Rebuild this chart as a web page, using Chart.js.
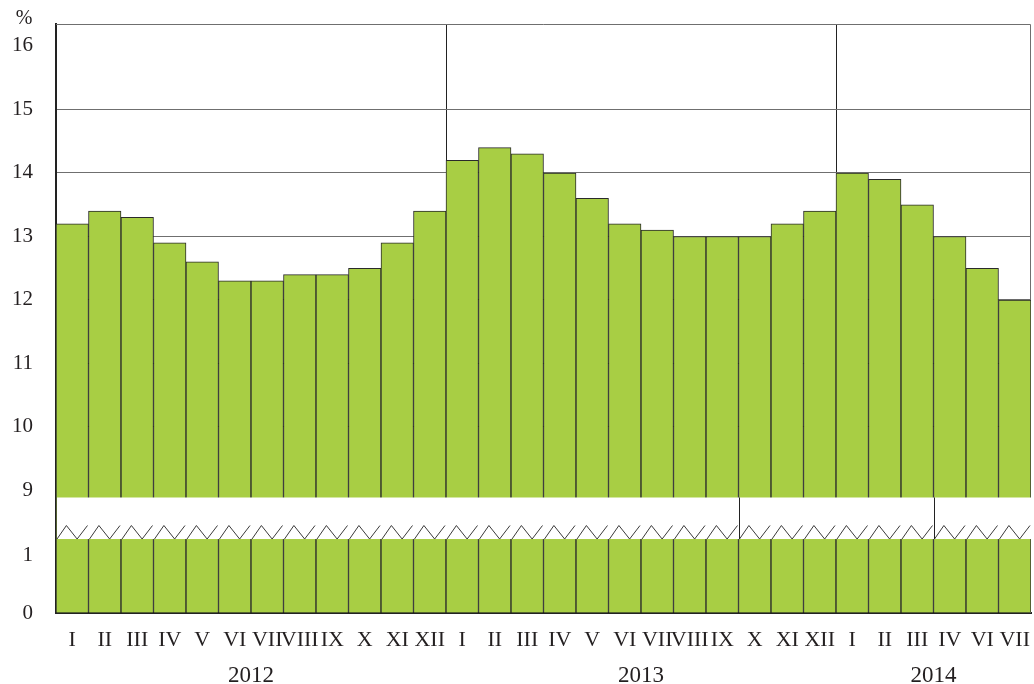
<!DOCTYPE html>
<html>
<head>
<meta charset="utf-8">
<script src="https://cdn.jsdelivr.net/npm/chart.js@4.4.1/dist/chart.umd.min.js"></script>
<style>
html,body{margin:0;padding:0;background:#fff}
</style>
</head>
<body>
<canvas id="c" width="1034" height="684"></canvas>
<script>
const months2012 = ['I','II','III','IV','V','VI','VII','VIII','IX','X','XI','XII'];
const months2013 = ['I','II','III','IV','V','VI','VII','VIII','IX','X','XI','XII'];
const months2014 = ['I','II','III','IV','VI','VII'];
const years = ['2012','2013','2014'];

const values2012 = [13.2,13.4,13.3,12.9,12.6,12.3,12.3,12.4,12.4,12.5,12.9,13.4];
const values2013 = [14.2,14.4,14.3,14.0,13.6,13.2,13.1,13.0,13.0,13.0,13.2,13.4];
const values2014 = [14.0,13.9,13.5,13.0,12.5,12.0];

const yTicks = [0,1,9,10,11,12,13,14,15,16];

// broken axis: 0..1 squeezed a bit, then jump to 9
const LOW_SPAN = 0.913;
const SHIFT = 7.07;
function toDisplay(v) { return v <= 1 ? v * LOW_SPAN : v - SHIFT; }

const labels = [...months2012, ...months2013, ...months2014];
const values = [...values2012, ...values2013, ...values2014];
const groups = [months2012.length, months2013.length, months2014.length];

// year centres and boundaries
let yearCenters = [], yearBounds = [], acc = 0;
groups.forEach((n, i) => {
  yearCenters.push(acc + (n - 1) / 2);
  acc += n;
  if (i < groups.length - 1) yearBounds.push(acc);
});

const FONT = '"Liberation Serif", "DejaVu Serif", serif';
const INK = '#231f20';

function noPad(s) {
  s.paddingTop = 0; s.paddingBottom = 0;
  s.paddingLeft = 0; s.paddingRight = 0;
}

const breakPlugin = {
  id: 'axisBreak',
  beforeDatasetsDraw(chart) {
    const {ctx, chartArea: a} = chart;
    ctx.save();
    ctx.strokeStyle = '#6f6f6f';
    ctx.lineWidth = 1;
    ctx.beginPath();
    ctx.moveTo(a.left, a.top + 0.5);
    ctx.lineTo(a.right - 0.5, a.top + 0.5);
    ctx.lineTo(a.right - 0.5, a.bottom);
    ctx.stroke();
    ctx.restore();
  },
  afterDatasetsDraw(chart) {
    const {ctx, chartArea: a, scales: {y}} = chart;
    const top = y.getPixelForValue(1.819);
    const bot = y.getPixelForValue(1.165);
    const peak = y.getPixelForValue(1.378);
    ctx.save();
    ctx.fillStyle = '#fff';
    ctx.fillRect(a.left + 1, top, a.right - a.left - 1, bot - top);

    const bars = chart.getDatasetMeta(0).data;
    ctx.strokeStyle = '#3a3a3a';
    ctx.lineWidth = 1;
    bars.forEach(b => {
      const x0 = b.x - b.width / 2, w = b.width;
      ctx.beginPath();
      ctx.moveTo(x0 + 1, bot);
      ctx.lineTo(x0 + 0.32 * w, peak);
      ctx.lineTo(x0 + 0.65 * w, bot);
      ctx.lineTo(x0 + w - 1, peak);
      ctx.stroke();
    });

    // stray divider lines inside the break band
    ctx.strokeStyle = '#222';
    [21, 27].forEach(i => {
      const b = bars[i];
      const x = Math.round(b.x - b.width / 2) + 0.5;
      ctx.beginPath();
      ctx.moveTo(x, top);
      ctx.lineTo(x, bot);
      ctx.stroke();
    });
    ctx.restore();
  },
  afterDraw(chart) {
    const ctx = chart.ctx;
    ctx.save();
    ctx.font = '20px ' + FONT;
    ctx.fillStyle = INK;
    ctx.textAlign = 'center';
    ctx.textBaseline = 'middle';
    ctx.fillText('%', 24, 19);
    ctx.restore();
  }
};

new Chart(document.getElementById('c'), {
  type: 'bar',
  data: {
    labels: labels,
    datasets: [{
      data: values.map(toDisplay),
      backgroundColor: '#a8ce44',
      borderColor: '#2a2a2a',
      borderWidth: 1,
      categoryPercentage: 1,
      barPercentage: 1
    }]
  },
  options: {
    responsive: false,
    animation: false,
    devicePixelRatio: 1,
    layout: { padding: { top: 24, right: 3, left: 0, bottom: 0 } },
    plugins: { legend: { display: false }, tooltip: { enabled: false } },
    scales: {
      x: {
        weight: 0,
        grid: {
          offset: true,
          drawTicks: false,
          color: ctx => yearBounds.includes(ctx.index) ? '#222' : 'transparent'
        },
        border: { display: true, color: '#222', width: 2 },
        ticks: {
          autoSkip: false, maxRotation: 0, minRotation: 0,
          padding: 14, color: INK,
          font: { family: FONT, size: 22 }
        },
        afterFit: s => { s.height = 40; noPad(s); }
      },
      x2: {
        type: 'linear',
        position: 'bottom',
        weight: 1,
        offset: false,
        min: -0.5,
        max: labels.length - 0.5,
        grid: { display: false, drawTicks: false, offset: false },
        border: { display: false },
        afterBuildTicks: s => { s.ticks = yearCenters.map(v => ({ value: v })); },
        ticks: {
          autoSkip: false, maxRotation: 0, padding: 9, color: INK,
          font: { family: FONT, size: 23 },
          callback: (v, i) => years[i]
        },
        afterFit: s => { s.height = 31; noPad(s); }
      },
      y: {
        min: 0,
        max: 9.276,
        grid: {
          drawTicks: false,
          color: ctx => {
            const t = yTicks[ctx.index];
            return (t >= 10 && t <= 15) ? '#6f6f6f' : 'transparent';
          }
        },
        border: { display: true, color: '#222', width: 2 },
        afterBuildTicks: s => { s.ticks = yTicks.map(v => ({ value: toDisplay(v) })); },
        ticks: {
          padding: 23, color: INK,
          font: { family: FONT, size: 21 },
          callback: (v, i) => yTicks[i]
        },
        afterFit: s => { s.width = 56; noPad(s); }
      }
    }
  },
  plugins: [breakPlugin]
});
</script>
</body>
</html>
